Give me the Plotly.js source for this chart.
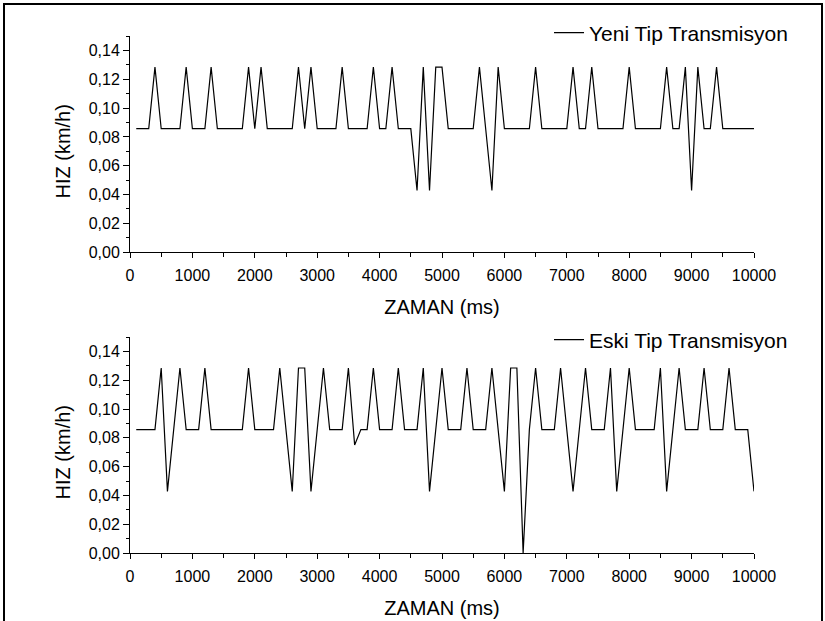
<!DOCTYPE html>
<html>
<head>
<meta charset="utf-8">
<script src="https://cdn.plot.ly/plotly-3.0.1.min.js"></script>
<style>
  html, body { margin: 0; padding: 0; background: #fff; }
  #wrap { position: relative; width: 825px; height: 621px; overflow: hidden; }
  #frame { position: absolute; left: 3px; top: 3px; width: 816px; height: 640px;
           border: 2px solid #000; pointer-events: none; z-index: 5; }
  #chart { position: absolute; left: 0; top: 0; width: 825px; height: 621px; }
</style>
</head>
<body>
<div id="wrap">
  <div id="chart"></div>
  <div id="frame"></div>
</div>
<script>
// Yeni Tip Transmisyon (top panel): time in ms, speed in km/h
const yeniTime = [100,300,400,500,800,900,1000,1200,1300,1400,1800,1900,2000,2100,2200,2600,2700,2800,2900,3000,
  3300,3400,3500,3800,3900,4000,4100,4200,4300,4500,4600,4700,4800,4900,5000,5100,5500,5600,5700,5800,5900,6000,
  6400,6500,6600,7000,7100,7200,7300,7400,7500,7900,8000,8100,8500,8600,8700,8800,8900,9000,9100,9200,9300,9400,9500,10000];
const yeniSpeed = [0.0857,0.0857,0.1285,0.0857,0.0857,0.1285,0.0857,0.0857,0.1285,0.0857,0.0857,0.1285,0.0857,0.1285,0.0857,
  0.0857,0.1285,0.0857,0.1285,0.0857,
  0.0857,0.1285,0.0857,0.0857,0.1285,0.0857,0.0857,0.1285,0.0857,0.0857,0.0428,0.1285,0.0428,0.1285,0.1285,0.0857,
  0.0857,0.1285,0.0857,0.0428,0.1285,0.0857,
  0.0857,0.1285,0.0857,0.0857,0.1285,0.0857,0.0857,0.1285,0.0857,0.0857,0.1285,0.0857,0.0857,0.1285,0.0857,0.0857,
  0.1285,0.0428,0.1285,0.0857,0.0857,0.1285,0.0857,0.0857];

// Eski Tip Transmisyon (bottom panel)
const eskiTime = [100,400,500,600,800,900,1100,1200,1300,1800,1900,2000,2300,2400,2600,2700,2800,2900,3100,3200,
  3400,3500,3600,3700,3800,3900,4000,4200,4300,4400,4600,4700,4800,5000,5100,5300,5400,5500,5700,5800,6000,6100,
  6200,6300,6400,6500,6600,6800,6900,7100,7300,7400,7600,7700,7800,8000,8100,8400,8500,8600,8800,8900,9100,9200,
  9300,9500,9600,9700,9900,10000];
const eskiSpeed = [0.0857,0.0857,0.1285,0.0428,0.1285,0.0857,0.0857,0.1285,0.0857,0.0857,0.1285,0.0857,0.0857,0.1285,
  0.0428,0.1285,0.1285,0.0428,0.1285,0.0857,
  0.0857,0.1285,0.075,0.0857,0.0857,0.1285,0.0857,0.0857,0.1285,0.0857,0.0857,0.1285,0.0428,0.1285,0.0857,0.0857,
  0.1285,0.0857,0.0857,0.1285,0.0428,0.1285,
  0.1285,0.0,0.0857,0.1285,0.0857,0.0857,0.1285,0.0428,0.1285,0.0857,0.0857,0.1285,0.0428,0.1285,0.0857,0.0857,
  0.1285,0.0428,0.1285,0.0857,0.0857,0.1285,
  0.0857,0.0857,0.1285,0.0857,0.0857,0.0428];

const seriesNames = ["Yeni Tip Transmisyon", "Eski Tip Transmisyon"];
const xTitle = "ZAMAN (ms)";
const yTitle = "HIZ (km/h)";

const FONT = "Arial, 'Liberation Sans', Helvetica, sans-serif";

const traces = [
  { x: yeniTime, y: yeniSpeed, type: "scatter", mode: "lines", name: seriesNames[0],
    line: { color: "#000", width: 1.2 }, xaxis: "x", yaxis: "y", legend: "legend" },
  { x: eskiTime, y: eskiSpeed, type: "scatter", mode: "lines", name: seriesNames[1],
    line: { color: "#000", width: 1.2 }, xaxis: "x2", yaxis: "y2", legend: "legend2" }
];

function xax(anchor) {
  return {
    anchor: anchor, range: [0, 10000], dtick: 1000, tick0: 0, tickformat: "d",
    showline: true, linecolor: "#000", linewidth: 1, showgrid: false, zeroline: false,
    ticks: "outside", ticklen: 5, tickwidth: 1, tickcolor: "#000", ticklabelstandoff: 4,
    minor: { dtick: 500, ticks: "outside", ticklen: 4, tickwidth: 1, tickcolor: "#000", showgrid: false },
    tickfont: { family: FONT, size: 16, color: "#000" },
    title: { text: xTitle, font: { family: FONT, size: 20, color: "#000" }, standoff: 16 },
    automargin: false
  };
}
function yax(anchor, domain) {
  return {
    anchor: anchor, domain: domain, range: [0, 0.1501], dtick: 0.02, tick0: 0, tickformat: ".2f",
    showline: true, linecolor: "#000", linewidth: 1, showgrid: false, zeroline: false,
    ticks: "outside", ticklen: 6, tickwidth: 1, tickcolor: "#000",
    minor: { dtick: 0.01, ticks: "outside", ticklen: 3, tickwidth: 1, tickcolor: "#000", showgrid: false },
    tickfont: { family: FONT, size: 16, color: "#000" },
    automargin: false
  };
}

const legendStyle = {
  bgcolor: "rgba(0,0,0,0)", borderwidth: 0,
  font: { family: FONT, size: 21, color: "#000" },
  xanchor: "left", yanchor: "middle", tracegroupgap: 0
};

function yTitleAnn(yref) {
  return { text: yTitle, xref: "paper", yref: yref, x: -0.107, y: 0.07,
           xanchor: "center", yanchor: "middle", textangle: -90, showarrow: false,
           font: { family: FONT, size: 20, color: "#000" } };
}

const layout = {
  width: 825, height: 621,
  margin: { l: 130, r: 71, t: 36, b: 68 },
  paper_bgcolor: "#fff", plot_bgcolor: "#fff",
  separators: ",.",
  showlegend: true,
  xaxis: xax("y"),
  yaxis: yax("x", [0.582, 1]),
  xaxis2: xax("y2"),
  yaxis2: yax("x2", [0, 0.418]),
  legend: Object.assign({ x: 0.6715, y: 1.006 }, legendStyle),
  legend2: Object.assign({ x: 0.6715, y: 0.412 }, legendStyle),
  annotations: [yTitleAnn("y"), yTitleAnn("y2")]
};

Plotly.newPlot("chart", traces, layout, { staticPlot: true, displayModeBar: false });
</script>
</body>
</html>
